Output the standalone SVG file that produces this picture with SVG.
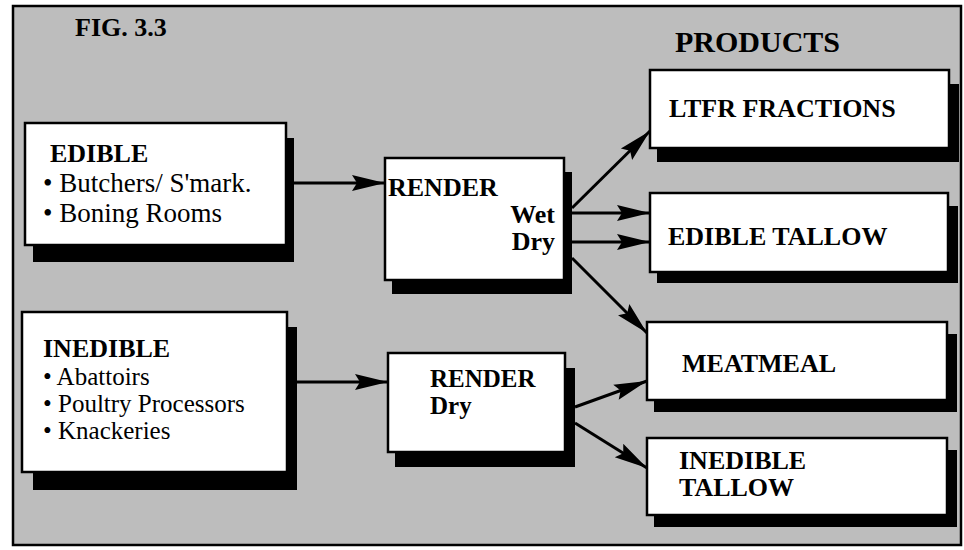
<svg xmlns="http://www.w3.org/2000/svg" width="964" height="550" viewBox="0 0 964 550">
<style>
.box{fill:#fff;stroke:#000;stroke-width:2.5}
.sh{fill:#000}
.b{font-family:"Liberation Serif","Times New Roman",serif;font-weight:bold;font-size:26px;fill:#000}
.r{font-family:"Liberation Serif","Times New Roman",serif;font-size:27px;fill:#000}
.s{font-size:25px}
.c{stroke:#000;stroke-width:3;fill:none;marker-end:url(#ah)}
</style>
<defs>
<marker id="ah" markerUnits="userSpaceOnUse" markerWidth="36" markerHeight="20" viewBox="-34 -9 36 18" refX="0" refY="0" orient="auto">
<path d="M-33,-8 L0,0 L-33,8 L-28,0 z" fill="#000"/>
</marker>
</defs>
<rect x="0" y="0" width="964" height="550" fill="#fff"/>
<rect x="13" y="6" width="948" height="539" fill="#bdbdbd" stroke="#000" stroke-width="2.5"/>
<text class="b" x="75" y="36">FIG. 3.3</text>
<text class="b" x="675" y="52" style="font-size:30px">PRODUCTS</text>

<g id="connectors">
<line class="c" x1="286" y1="183" x2="385" y2="183"/>
<line class="c" x1="572" y1="208" x2="650" y2="131"/>
<line class="c" x1="572" y1="213" x2="650" y2="213"/>
<line class="c" x1="572" y1="242" x2="650" y2="242"/>
<line class="c" x1="572" y1="258" x2="647" y2="333"/>
<line class="c" x1="297" y1="382" x2="388" y2="382"/>
<line class="c" x1="575" y1="407" x2="647" y2="381"/>
<line class="c" x1="575" y1="423" x2="647" y2="468"/>
</g>

<g id="edible">
<rect class="sh" x="33" y="138" width="261" height="124"/>
<rect class="box" x="25" y="123" width="261" height="122"/>
<text class="b" x="50" y="162">EDIBLE</text>
<text class="r" x="43" y="192">• Butchers/ S'mark.</text>
<text class="r" x="43" y="222">• Boning Rooms</text>
</g>

<g id="inedible">
<rect class="sh" x="33" y="327" width="264" height="163"/>
<rect class="box" x="22" y="312" width="265" height="160"/>
<text class="b" x="43" y="357">INEDIBLE</text>
<text class="r s" x="43" y="385">• Abattoirs</text>
<text class="r s" x="43" y="412">• Poultry Processors</text>
<text class="r s" x="43" y="439">• Knackeries</text>
</g>

<g id="render-wet-dry">
<rect class="sh" x="392" y="172" width="180" height="122"/>
<rect class="box" x="385" y="158" width="179" height="122"/>
<text class="b" x="388" y="196">RENDER</text>
<text class="b" x="555" y="223" text-anchor="end">Wet</text>
<text class="b" x="555" y="250" text-anchor="end">Dry</text>
</g>

<g id="render-dry">
<rect class="sh" x="395" y="368" width="180" height="99"/>
<rect class="box" x="388" y="353" width="177" height="99"/>
<text class="b s" x="430" y="387">RENDER</text>
<text class="b s" x="430" y="414">Dry</text>
</g>

<g id="ltfr">
<rect class="sh" x="657" y="84" width="302" height="78"/>
<rect class="box" x="650" y="70" width="299" height="78"/>
<text class="b" x="669" y="117">LTFR FRACTIONS</text>
</g>

<g id="edible-tallow">
<rect class="sh" x="657" y="206" width="301" height="77"/>
<rect class="box" x="650" y="193" width="298" height="79"/>
<text class="b" x="668" y="245">EDIBLE TALLOW</text>
</g>

<g id="meatmeal">
<rect class="sh" x="654" y="334" width="303" height="78"/>
<rect class="box" x="647" y="322" width="300" height="78"/>
<text class="b" x="682" y="372">MEATMEAL</text>
</g>

<g id="inedible-tallow">
<rect class="sh" x="654" y="450" width="303" height="77"/>
<rect class="box" x="647" y="438" width="300" height="77"/>
<text class="b" x="679" y="469">INEDIBLE</text>
<text class="b" x="679" y="496">TALLOW</text>
</g>
</svg>
